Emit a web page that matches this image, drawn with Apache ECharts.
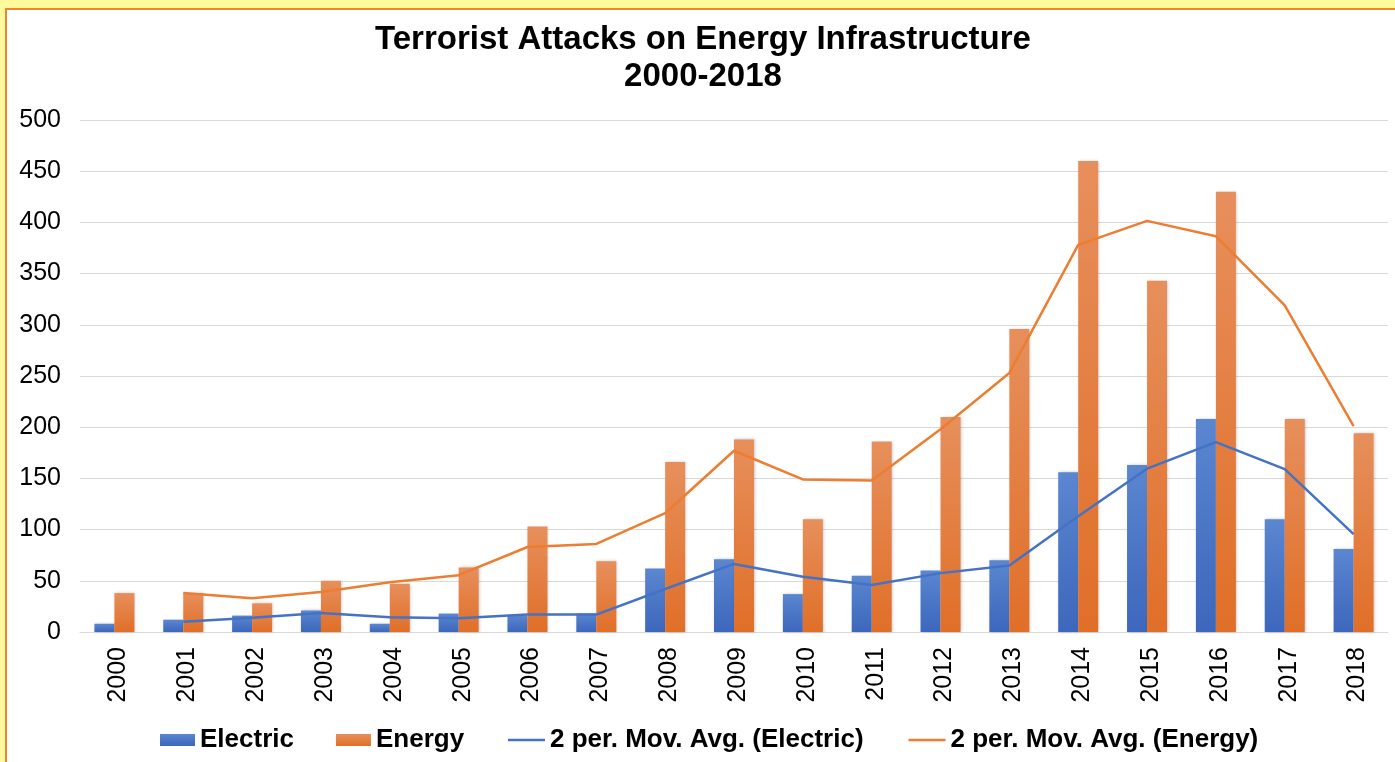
<!DOCTYPE html>
<html>
<head>
<meta charset="utf-8">
<title>Terrorist Attacks on Energy Infrastructure 2000-2018</title>
<script src="https://cdn.jsdelivr.net/npm/echarts@6/dist/echarts.min.js"></script>
<style>
  html, body { margin: 0; padding: 0; width: 1395px; height: 762px; overflow: hidden; background: #FFFB9C; }
  #frame { position: absolute; left: 5px; top: 8px; width: 1400px; height: 770px; background: #ffffff; border: 2px solid #EE8430; box-sizing: border-box; }
  #chart { position: absolute; left: 0; top: 0; width: 1395px; height: 762px; }
</style>
</head>
<body>
<div id="frame"></div>
<div id="chart"></div>
<script>
// Yearly counts of attacks
const years = ['2000','2001','2002','2003','2004','2005','2006','2007','2008','2009',
               '2010','2011','2012','2013','2014','2015','2016','2017','2018'];
const electric = [8, 12, 16, 21, 8, 18, 16, 18, 62, 71, 37, 55, 60, 70, 156, 163, 208, 110, 81];
const energy   = [38, 38, 28, 50, 47, 63, 103, 69, 166, 188, 110, 186, 210, 296, 460, 343, 430, 208, 194];
// Two-period moving average trendlines (no value for the first year)
const maElectric = [null, 10, 14, 18.5, 14.5, 13.5, 17, 17, 42, 66.5, 54, 46, 57.5, 65, 113, 159.5, 185.5, 159, 95.5];
const maEnergy   = [null, 38, 33, 39, 48.5, 55.5, 83, 86, 116, 177, 149, 148, 198, 253, 378, 401.5, 386.5, 319, 201];
const yTicks = { min: 0, max: 500, step: 50 };

const FONT = '"Liberation Sans", Arial, Helvetica, sans-serif';
const BLUE = '#4472C4';
const ORANGE = '#ED7D31';

const chart = echarts.init(document.getElementById('chart'), null, { renderer: 'canvas' });

function barFill(top, bottom) {
  return new echarts.graphic.LinearGradient(0, 0, 0, 1, [
    { offset: 0, color: top },
    { offset: 1, color: bottom }
  ]);
}

const legendText = { fontFamily: FONT, fontSize: 26, fontWeight: 'bold', color: '#000' };

chart.setOption({
  backgroundColor: 'transparent',
  animation: false,
  title: {
    text: 'Terrorist Attacks on Energy Infrastructure\n2000-2018',
    left: 703,
    textAlign: 'center',
    top: 21,
    padding: 0,
    textStyle: { fontFamily: FONT, fontSize: 33, fontWeight: 'bold', color: '#000', lineHeight: 37 }
  },
  legend: [
    {
      data: ['Electric', 'Energy'],
      left: 160,
      top: 727,
      padding: 0,
      icon: 'rect',
      itemWidth: 35,
      itemHeight: 12,
      itemGap: 42,
      textStyle: legendText
    },
    {
      data: ['2 per. Mov. Avg. (Electric)', '2 per. Mov. Avg. (Energy)'],
      left: 508,
      top: 727,
      padding: 0,
      icon: 'rect',
      itemWidth: 37,
      itemHeight: 2.5,
      itemGap: 45,
      textStyle: legendText
    }
  ],
  grid: { left: 80, right: 7, top: 120, bottom: 130 },
  xAxis: {
    type: 'category',
    data: years,
    axisLine: { lineStyle: { color: '#D9D9D9', width: 1 } },
    axisTick: { show: false },
    axisLabel: { rotate: 90, margin: 15, verticalAlign: 'top', lineHeight: 8, fontFamily: FONT, fontSize: 25, color: '#000' }
  },
  yAxis: {
    type: 'value',
    min: yTicks.min,
    max: yTicks.max,
    interval: yTicks.step,
    axisLine: { show: false },
    axisTick: { show: false },
    splitLine: { lineStyle: { color: '#D9D9D9', width: 1 } },
    axisLabel: { margin: 19, fontFamily: FONT, fontSize: 25, color: '#000' }
  },
  series: [
    {
      name: 'Electric',
      type: 'bar',
      data: electric,
      barWidth: 20,
      barGap: '0%',
      itemStyle: {
        color: barFill('#5B86D0', '#3C67BC'),
        shadowColor: 'rgba(0,0,0,0.22)', shadowBlur: 3, shadowOffsetX: 1
      }
    },
    {
      name: 'Energy',
      type: 'bar',
      data: energy,
      barWidth: 20,
      barGap: '0%',
      itemStyle: {
        color: barFill('#E78F5C', '#E06F28'),
        shadowColor: 'rgba(0,0,0,0.22)', shadowBlur: 3, shadowOffsetX: 1
      }
    },
    {
      name: '2 per. Mov. Avg. (Electric)',
      type: 'line',
      data: maElectric,
      symbol: 'none',
      z: 5,
      itemStyle: { color: BLUE },
      lineStyle: { color: BLUE, width: 2.5 }
    },
    {
      name: '2 per. Mov. Avg. (Energy)',
      type: 'line',
      data: maEnergy,
      symbol: 'none',
      z: 5,
      itemStyle: { color: ORANGE },
      lineStyle: { color: ORANGE, width: 2.5 }
    }
  ]
});
</script>
</body>
</html>
